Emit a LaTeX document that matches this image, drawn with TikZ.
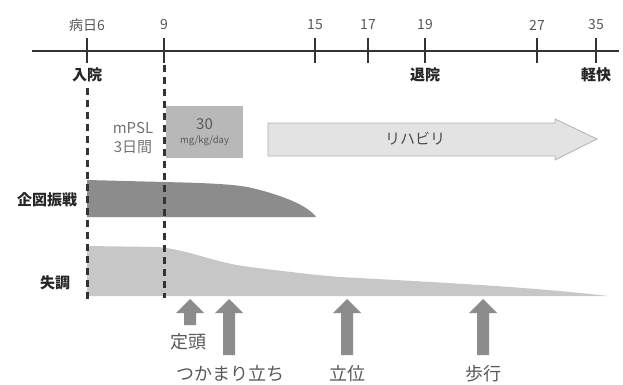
\documentclass[tikz,border=0pt]{standalone}
\usepackage{fontspec}
\setmainfont{Noto Sans CJK JP}
\newfontfamily\jp{Noto Sans CJK JP}
\begin{document}
\begin{tikzpicture}[x=1pt,y=-1pt,
  axisline/.style={draw=black!80,line width=1.8pt},
  tickmark/.style={draw=black!80,line width=1.6pt},
  ticklab/.style={text=black!65,font=\jp\fontsize{14}{16}\selectfont,inner sep=0pt},
  eventlab/.style={text=black!85,font=\jp\bfseries\fontsize{15}{17}\selectfont,inner sep=0pt},
  rowlab/.style={text=black!85,font=\jp\bfseries\fontsize{15}{17}\selectfont,inner sep=0pt},
  milestone/.style={text=black!65,font=\jp\fontsize{18}{20}\selectfont,inner sep=0pt},
  dashline/.style={draw=black!80,line width=3pt,dash pattern=on 7pt off 5pt},
  uparr/.style={fill=black!45,draw=none},
  tremor/.style={fill=black!45,draw=none},
  ataxia/.style={fill=black!22,draw=none}]
\useasboundingbox (0,0) rectangle (623,385);
\fill[white] (0,0) rectangle (623,385);

% axis
\coordinate (ax0) at (32,51);
\coordinate (ax1) at (619,51);
\draw[axisline] (ax0) -- (ax1);
\foreach \x/\n in {87/a,164/b,315/c,368/d,425/e,537/f,596/g}{
  \coordinate (t\n) at (\x,38);
  \coordinate (b\n) at (\x,63);
  \draw[tickmark] (t\n) -- (b\n);
}
\node[ticklab] (l6) at (87,25) {病日6};
\node[ticklab] (l9) at (164,25) {9};
\node[ticklab] (l15) at (315,25) {15};
\node[ticklab] (l17) at (368,25) {17};
\node[ticklab] (l19) at (425,25) {19};
\node[ticklab] (l27) at (537,25) {27};
\node[ticklab] (l35) at (596,25) {35};

\node[eventlab] (nyuin) at (87,75) {入院};
\node[eventlab] (taiin) at (425,75) {退院};
\node[eventlab] (keikai) at (596,75) {軽快};

% mPSL
\node[text=black!55,font=\jp\fontsize{15}{19}\selectfont,align=center,inner sep=0pt] (mpsl) at (133,138) {mPSL\\3日間};
\fill[black!28] (166,106) rectangle (243,158);
\node[text=black!65,font=\jp\fontsize{15}{16}\selectfont,inner sep=0pt] (dose) at (204.5,124) {30};
\node[text=black!65,font=\jp\fontsize{9.5}{10}\selectfont,inner sep=0pt] (unit) at (204.5,141) {mg/kg/day};

% rehab arrow
\filldraw[fill=black!11,draw=black!30,line width=0.8pt]
  (268,123) -- (555,123) -- (555,119) -- (597,139) -- (555,160) -- (555,156) -- (268,156) -- cycle;
\node[text=black!70,font=\jp\fontsize{15}{16}\selectfont,inner sep=0pt] (rehab) at (415,139) {リハビリ};

% tremor
\fill[tremor] (87,180) -- (164,182) .. controls (205,183) and (235,184) .. (252,188)
  .. controls (285,196) and (308,206) .. (316,217) -- (87,217) -- cycle;
\node[rowlab] (kizu) at (47,200) {企図振戦};

% ataxia
\fill[ataxia] (87,246) -- (158,247) .. controls (190,250) and (215,263) .. (250,267)
  .. controls (290,272) and (315,275) .. (340,277)
  .. controls (450,283) and (530,287) .. (608,296) -- (87,296) -- cycle;
\node[rowlab] (shitcho) at (55,283) {失調};

% dashed lines
\coordinate (d1a) at (87,88);
\coordinate (d1b) at (87,301);
\coordinate (d2a) at (164,65);
\coordinate (d2b) at (164,298);
\draw[dashline] (d1a) -- (d1b);
\draw[dashline] (d2a) -- (d2b);

% milestone arrows
\newcommand\myup[3]{% x, tip y, bottom y
  \fill[uparr] (#1-6,#3) -- (#1-6,#2+14) -- (#1-14,#2+14) -- (#1,#2) -- (#1+14,#2+14) -- (#1+6,#2+14) -- (#1+6,#3) -- cycle;}
\myup{190}{299}{325}
\myup{229}{299}{355}
\myup{347}{299}{355}
\myup{483}{299}{355}

\node[milestone] (teito) at (188,342) {定頭};
\node[milestone] (tsukamari) at (230,374) {つかまり立ち};
\node[milestone] (ritsui) at (347,374) {立位};
\node[milestone] (hoko) at (483,374) {歩行};
\end{tikzpicture}
\end{document}
